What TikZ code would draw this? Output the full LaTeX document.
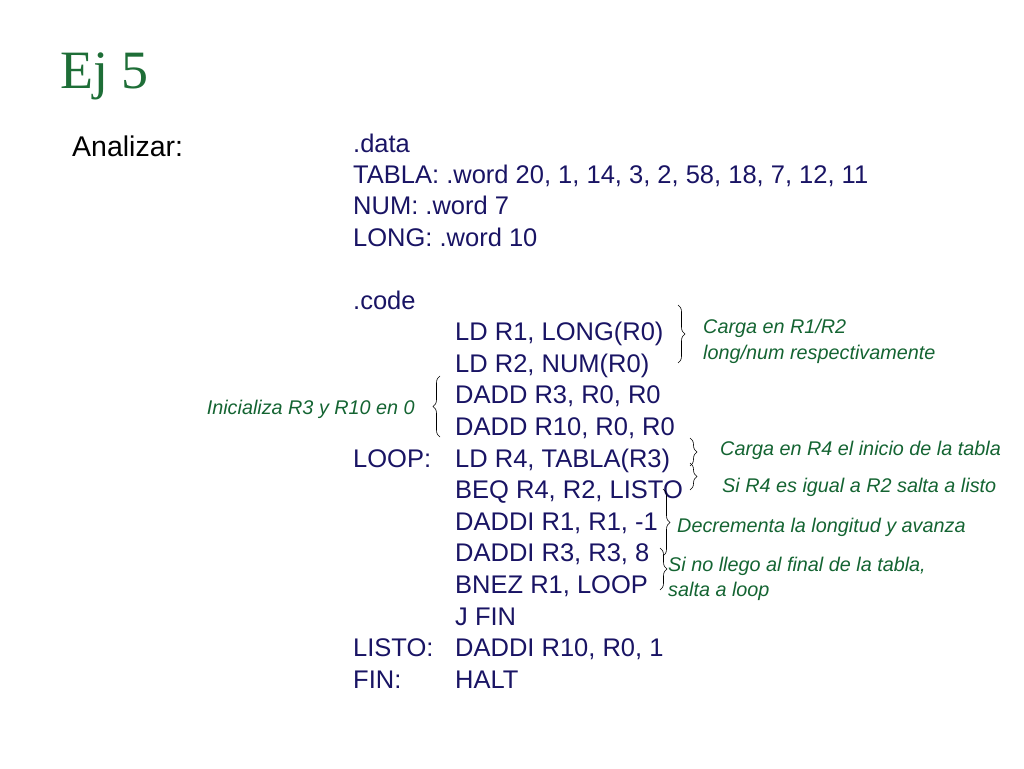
\documentclass[tikz,border=0pt]{standalone}
\usepackage{fontspec}
\setmainfont{Liberation Sans}
\newfontfamily\titlefont{Liberation Serif}
\usetikzlibrary{decorations.pathreplacing}
\definecolor{titlegreen}{RGB}{30,110,55}
\definecolor{notegreen}{RGB}{20,100,50}
\definecolor{codeblue}{RGB}{25,20,100}

\begin{document}
\begin{tikzpicture}[x=1pt,y=-1pt,
  code/.style={anchor=base west, inner sep=0pt, text=codeblue, font=\fontsize{25.5}{30}\selectfont},
  note/.style={anchor=base west, inner sep=0pt, text=notegreen, font=\fontsize{19.8}{23}\itshape},
  brc/.style={decorate, decoration={brace, amplitude=7pt}, semithick}]
\useasboundingbox (0,0) rectangle (1024,768);
\node[anchor=base west, inner sep=0pt, text=titlegreen, font=\fontsize{54}{60}\titlefont] (title) at (60,88) {Ej 5};
\node[anchor=base west, inner sep=0pt, font=\fontsize{28.5}{32}\selectfont] (analizar) at (72,156) {Analizar:};

\node[code] (data) at (353,152) {.data};
\node[code] (tabla) at (353,183) {TABLA: .word 20, 1, 14, 3, 2, 58, 18, 7, 12, 11};
\node[code] (num) at (353,214) {NUM: .word 7};
\node[code] (long) at (353,246) {LONG: .word 10};
\node[code] (codesec) at (353,309) {.code};
\node[code] (ld1) at (455,340) {LD R1, LONG(R0)};
\node[code] (ld2) at (455,372) {LD R2, NUM(R0)};
\node[code] (dadd1) at (455,403) {DADD R3, R0, R0};
\node[code] (dadd2) at (455,435) {DADD R10, R0, R0};
\node[code] (loop) at (353,467) {LOOP:};
\node[code] (ld4) at (455,467) {LD R4, TABLA(R3)};
\node[code] (beq) at (455,498) {BEQ R4, R2, LISTO};
\node[code] (daddi1) at (455,530) {DADDI R1, R1, -1};
\node[code] (daddi3) at (455,561) {DADDI R3, R3, 8};
\node[code] (bnez) at (455,593) {BNEZ R1, LOOP};
\node[code] (jfin) at (455,625) {J FIN};
\node[code] (listo) at (353,656) {LISTO:};
\node[code] (daddi10) at (455,656) {DADDI R10, R0, 1};
\node[code] (fin) at (353,688) {FIN:};
\node[code] (halt) at (455,688) {HALT};

% llaves
\draw[brc] (678,305) -- (678,363);
\draw[brc] (440,437) -- (440,376);
\draw[brc] (690,438) -- (690,466);
\draw[brc] (690,463) -- (690,490);
\draw[brc] (663,489) -- (663,556);
\draw[brc] (660,548) -- (660,590);

% comentarios
\node[note] (n1) at (703,333) {Carga en R1/R2};
\node[note] (n1b) at (703,359) {long/num respectivamente};
\node[note, anchor=base east] (n2) at (415,414) {Inicializa R3 y R10 en 0};
\node[note] (n3) at (720,455) {Carga en R4 el inicio de la tabla};
\node[note] (n4) at (722,492) {Si R4 es igual a R2 salta a listo};
\node[note] (n5) at (677,532) {Decrementa la longitud y avanza};
\node[note] (n6) at (668,571) {Si no llego al final de la tabla,};
\node[note] (n6b) at (668,596) {salta a loop};
\end{tikzpicture}
\end{document}
